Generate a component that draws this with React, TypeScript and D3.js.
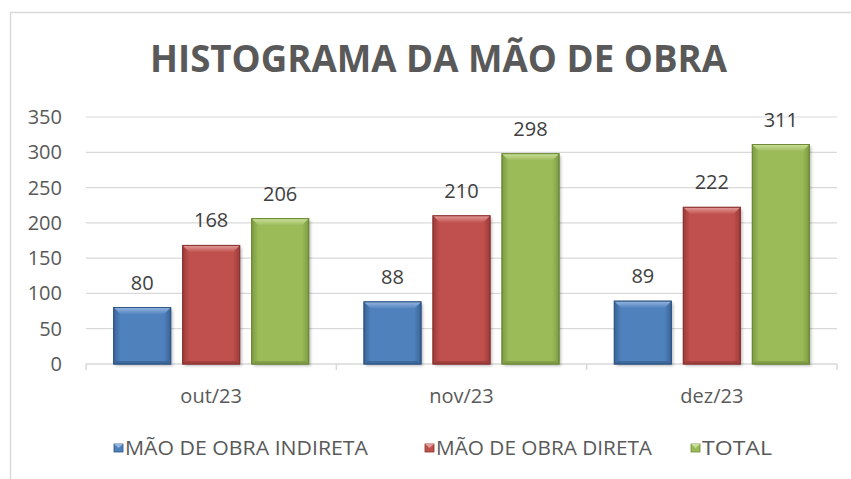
import React from "react";
import * as d3 from "d3";

const categories = ["out/23", "nov/23", "dez/23"];
const seriesNames = ["MÃO DE OBRA INDIRETA", "MÃO DE OBRA DIRETA", "TOTAL"];
const indireta = [80, 88, 89];
const direta = [168, 210, 222];
const total = [206, 298, 311];
const yTicks = [0, 50, 100, 150, 200, 250, 300, 350];
const title = "HISTOGRAMA DA MÃO DE OBRA";

const seriesValues = [indireta, direta, total];
const palette = [
  { base: "#4f81bd", light: "#95b6e0", dark: "#3a6496", edge: "#2f5586" },
  { base: "#c0504d", light: "#e29c9a", dark: "#9c3c3a", edge: "#8b3331" },
  { base: "#9bbb59", light: "#cbe09a", dark: "#7d9a43", edge: "#6d8a37" },
];

const W = 851;
const H = 479;
const FONT = "'Open Sans', 'DejaVu Sans', sans-serif";

export default function App() {
  const x0 = d3.scaleBand<string>().domain(categories).range([86, 837]).paddingInner(0).paddingOuter(0);
  const x1 = d3
    .scaleBand<string>()
    .domain(seriesNames)
    .range([0, x0.bandwidth()])
    .paddingInner(0.174)
    .paddingOuter(0.401);
  const y = d3.scaleLinear().domain([0, 350]).range([364, 117]);

  const legendItems = [
    { x: 114, name: seriesNames[0], len: 243 },
    { x: 425, name: seriesNames[1], len: 216 },
    { x: 691, name: seriesNames[2], len: 70 },
  ];

  const bevel = 7;

  return (
    <svg
      width={W}
      height={H}
      style={{ position: "absolute", left: 0, top: 0, background: "#fff" }}
      fontFamily={FONT}
    >
      <defs>
        {palette.map((p, i) => (
          <linearGradient key={i} id={`g${i}`} x1="0" y1="0" x2="1" y2="0">
            <stop offset="0" stopColor={p.dark} />
            <stop offset="0.12" stopColor={p.base} />
            <stop offset="0.88" stopColor={p.base} />
            <stop offset="1" stopColor={p.dark} />
          </linearGradient>
        ))}
        {palette.map((p, i) => (
          <linearGradient key={"b" + i} id={`b${i}`} x1="0" y1="0" x2="0" y2="1">
            <stop offset="0" stopColor={p.light} />
            <stop offset="1" stopColor={p.base} />
          </linearGradient>
        ))}
        <filter id="shadow" x="-20%" y="-20%" width="140%" height="140%">
          <feGaussianBlur stdDeviation="1.5" />
        </filter>
      </defs>

      <rect x={10.5} y={12.5} width={860} height={500} fill="#fff" stroke="#d9d9d9" strokeWidth={1.5} />

      <text
        x={438.5}
        y={72}
        textAnchor="middle"
        fontSize={38}
        fontWeight={700}
        fill="#595959"
        textLength={577}
        lengthAdjust="spacingAndGlyphs"
      >
        {title}
      </text>

      {yTicks.map((t) => (
        <g key={t}>
          {t > 0 && <line x1={86} x2={837} y1={y(t)} y2={y(t)} stroke="#d9d9d9" strokeWidth={1.2} />}
          <text x={62} y={y(t) + 7} textAnchor="end" fontSize={20} fill="#595959">
            {t}
          </text>
        </g>
      ))}

      <line x1={86} x2={837} y1={y(0)} y2={y(0)} stroke="#d9d9d9" strokeWidth={1.5} />
      {[...categories.map((c) => x0(c) as number), 837].map((tx, i) => (
        <line key={i} x1={tx} x2={tx} y1={y(0)} y2={y(0) + 6} stroke="#d9d9d9" strokeWidth={1.5} />
      ))}

      {categories.map((c) => (
        <text
          key={c}
          x={(x0(c) as number) + x0.bandwidth() / 2}
          y={403}
          textAnchor="middle"
          fontSize={20}
          fill="#595959"
        >
          {c}
        </text>
      ))}

      {categories.map((c, ci) =>
        seriesNames.map((s, si) => {
          const v = seriesValues[si][ci];
          const bx = (x0(c) as number) + (x1(s) as number);
          const bw = x1.bandwidth();
          const by = y(v);
          const bh = y(0) - by;
          const p = palette[si];
          return (
            <g key={c + s}>
              <rect x={bx + 2} y={by + 2} width={bw} height={bh} fill="#000" opacity={0.25} filter="url(#shadow)" />
              <rect x={bx} y={by} width={bw} height={bh} fill={`url(#g${si})`} stroke={p.edge} strokeWidth={1} />
              <polygon
                points={`${bx},${by} ${bx + bw},${by} ${bx + bw - bevel},${by + bevel} ${bx + bevel},${by + bevel}`}
                fill={`url(#b${si})`}
              />
              <polygon
                points={`${bx},${by + bh} ${bx + bw},${by + bh} ${bx + bw - 3},${by + bh - 3} ${bx + 3},${by + bh - 3}`}
                fill={p.dark}
                opacity={0.8}
              />
              <rect x={bx} y={by} width={bw} height={bh} fill="none" stroke={p.edge} strokeWidth={1} />
              <text x={bx + bw / 2} y={by - 18} textAnchor="middle" fontSize={20} fill="#404040">
                {v}
              </text>
            </g>
          );
        })
      )}

      {legendItems.map((it, i) => {
        const p = palette[i];
        const mx = it.x;
        const my = 444;
        const ms = 8;
        return (
          <g key={it.name}>
            <rect x={mx} y={my} width={ms + 1} height={ms} fill={p.base} stroke={p.edge} strokeWidth={0.8} />
            <polygon
              points={`${mx},${my} ${mx + ms + 1},${my} ${mx + (ms + 1) / 2},${my + 4}`}
              fill={p.light}
            />
            <text
              x={mx + 11}
              y={455}
              fontSize={20.5}
              fill="#595959"
              textLength={it.len}
              lengthAdjust="spacingAndGlyphs"
            >
              {it.name}
            </text>
          </g>
        );
      })}
    </svg>
  );
}
